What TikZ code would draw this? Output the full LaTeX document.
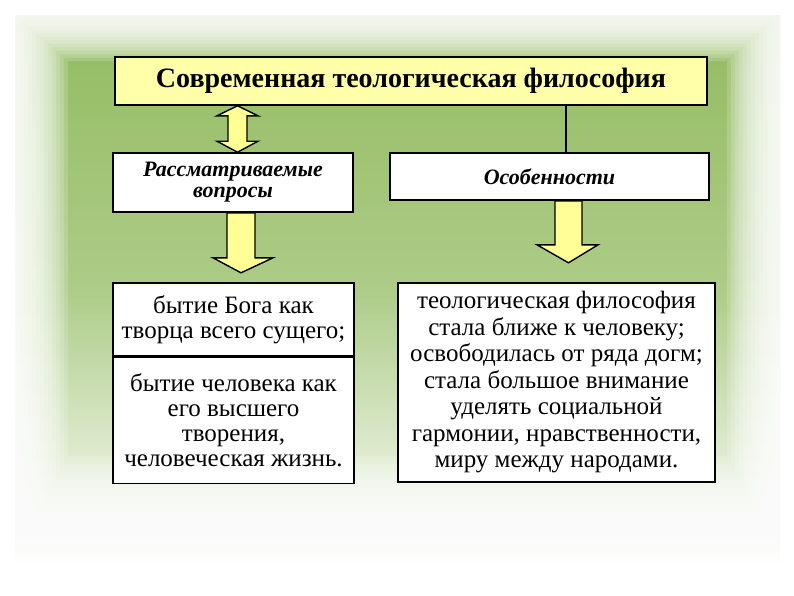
\documentclass[tikz,border=0pt]{standalone}
\usepackage{fontspec}
\setmainfont{Liberation Serif}
\usetikzlibrary{calc}
\definecolor{slidegreen}{RGB}{146,187,96}
\definecolor{paleyellow}{RGB}{255,255,170}
\definecolor{arrowyellow}{RGB}{255,255,150}

\begin{document}
\begin{tikzpicture}[x=1pt, y=-1pt,
    titlebox/.style={draw=black, line width=1.6pt, fill=paleyellow,
      minimum width=592pt, minimum height=48pt, inner sep=0pt,
      font=\bfseries\fontsize{28}{30}\selectfont},
    headbox/.style={draw=black, line width=1.6pt, fill=white, inner sep=0pt,
      align=center, font=\bfseries\itshape\fontsize{22}{21}\selectfont},
    textbox/.style={draw=black, line width=1.6pt, fill=white, inner sep=0pt,
      align=center, font=\fontsize{25}{25}\selectfont},
    blockarrow/.style={draw=black, line width=1.4pt, fill=arrowyellow,
      line join=miter}]
  \useasboundingbox (0,0) rectangle (794,595);
  % slide background with soft edges
  \shade[top color=slidegreen, bottom color=white, middle color=slidegreen!75]
    (15,15) rectangle (780,565);
  \foreach \k in {1,...,14}
    \fill[white, opacity=0.17, even odd rule]
      (12,12) rectangle (783,568) (12+4*\k,12+3.5*\k) rectangle (783-4*\k,568-8*\k);

  % boxes
  \node[titlebox] (title) at (411,81) {Современная теологическая философия};
  \node[headbox, minimum width=240pt, minimum height=59pt] (vopr) at (233,182.5)
    {Рассматриваемые\\вопросы};
  \node[headbox, minimum width=319pt, minimum height=47pt] (osob) at (549.5,176.5)
    {Особенности};
  \node[textbox, minimum width=241pt, minimum height=73pt] (bog) at (233.5,319.5)
    {бытие Бога как\\творца всего сущего;};
  \node[textbox, minimum width=241pt, minimum height=126pt, anchor=north] (chel)
    at (bog.south) {бытие человека как\\его высшего\\творения,\\человеческая жизнь.};
  \node[textbox, font=\fontsize{25}{26.5}\selectfont, minimum width=317pt,
    minimum height=199pt] (feat) at (556.5,382.5)
    {теологическая философия\\стала ближе к человеку;\\освободилась от ряда догм;\\
     стала большое внимание\\уделять социальной\\гармонии, нравственности,\\
     миру между народами.};

  % connectors
  \coordinate (dtop) at ([xshift=4.5pt]title.south -| vopr.north);
  \coordinate (dbot) at ([xshift=4.5pt]vopr.north);
  \draw[blockarrow] (dtop) -- ++(20.5,10) -- ++(-11,0) -- ($(dbot)+(9.5,-11)$)
    -- ++(11,0) -- (dbot) -- ++(-20.5,-11) -- ++(11,0) -- ($(dtop)+(-9.5,10)$)
    -- ++(-11,0) -- cycle;
  \coordinate (ltip) at ([xshift=8pt, yshift=-60pt]vopr.south);
  \draw[blockarrow] ([xshift=-6pt]vopr.south) -- ++(28,0) -- ++(0,45) -- ++(18,0)
    -- (ltip) -- ++(-28,-15) -- ++(14,0) -- cycle;
  \coordinate (lin) at ([xshift=16.5pt]title.south -| osob.north);
  \draw[line width=1.6pt] (lin) -- (lin |- osob.north);
  \coordinate (rtip) at ([xshift=19pt, yshift=-62pt]osob.south);
  \draw[blockarrow] ([xshift=5.5pt]osob.south) -- ++(27,0) -- ++(0,44) -- ++(16,0)
    -- (rtip) -- ++(-31.5,-18) -- ++(18,0) -- cycle;
\end{tikzpicture}
\end{document}
